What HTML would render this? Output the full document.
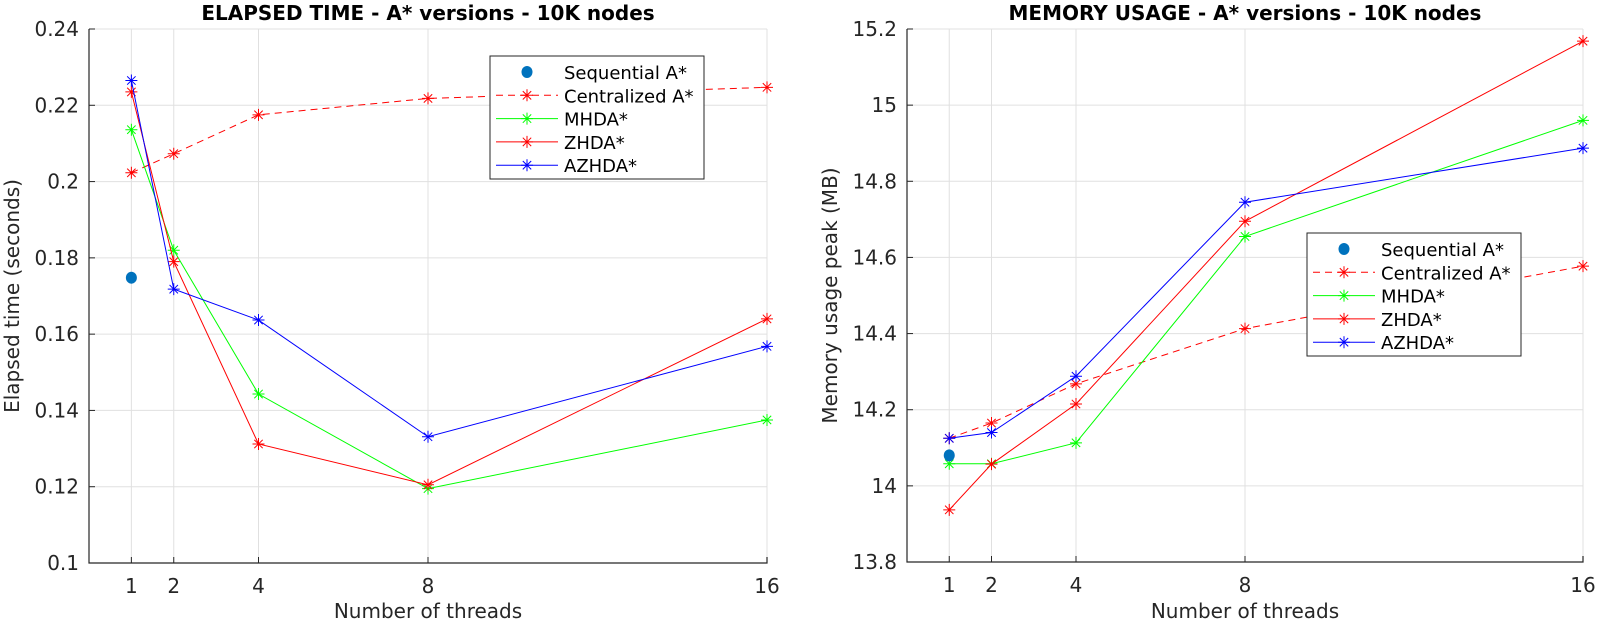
<!DOCTYPE html>
<html><head><meta charset="utf-8"><style>
body{margin:0;background:#fff;}
svg{display:block;font-family:"DejaVu Sans","Liberation Sans",sans-serif;}
</style></head><body>
<svg id="c" width="1600" height="624"></svg>
<script>
const threads=[1,2,4,8,16];
const leftSeq=[0.1748];
const leftCentral=[0.2023,0.2073,0.2175,0.2218,0.2247];
const leftMHDA=[0.2136,0.1820,0.1443,0.1195,0.1375];
const leftZHDA=[0.2235,0.1790,0.1312,0.1205,0.1640];
const leftAZHDA=[0.2265,0.1718,0.1637,0.1331,0.1568];
const leftYTicks=[0.1,0.12,0.14,0.16,0.18,0.2,0.22,0.24];
const leftYLabels=["0.1","0.12","0.14","0.16","0.18","0.2","0.22","0.24"];
const rightSeq=[14.08];
const rightCentral=[14.125,14.165,14.268,14.413,14.577];
const rightMHDA=[14.058,14.058,14.113,14.655,14.96];
const rightZHDA=[13.937,14.057,14.215,14.695,15.168];
const rightAZHDA=[14.125,14.14,14.288,14.745,14.887];
const rightYTicks=[13.8,14,14.2,14.4,14.6,14.8,15,15.2];
const rightYLabels=["13.8","14","14.2","14.4","14.6","14.8","15","15.2"];
const seriesNames=["Sequential A*","Centralized A*","MHDA*","ZHDA*","AZHDA*"];

const NS="http://www.w3.org/2000/svg";
const svg=document.getElementById('c');
function mk(tag,attrs,parent){const e=document.createElementNS(NS,tag);for(const k in attrs)e.setAttribute(k,attrs[k]);(parent||svg).appendChild(e);return e;}
function star(g,x,y,color){
  const r=6;
  mk('path',{d:`M${x-r},${y}H${x+r}M${x},${y-r}V${y+r}M${x-r*0.7},${y-r*0.7}L${x+r*0.7},${y+r*0.7}M${x-r*0.7},${y+r*0.7}L${x+r*0.7},${y-r*0.7}`,stroke:color,'stroke-width':1,fill:'none'},g);
}
function panel(o){
  const g=mk('g',{});
  
  
  const sx=v=>o.x0+(v-o.xmin)/(o.xmax-o.xmin)*(o.x1-o.x0);
  const sy=v=>o.y1-(v-o.ymin)/(o.ymax-o.ymin)*(o.y1-o.y0);
  o.yt.forEach((t,i)=>{
    const y=sy(t);
    mk('line',{x1:o.x0,x2:o.x1,y1:y,y2:y,stroke:'#e0e0e0','stroke-width':1},g);
    const tx=mk('text',{x:o.x0-10,y:y+7,'text-anchor':'end','font-size':20,fill:'#262626'},g);
    tx.textContent=o.yl[i];
    
    
  });
  threads.forEach(t=>{
    const x=sx(t);
    mk('line',{x1:x,x2:x,y1:o.y0,y2:o.y1,stroke:'#e0e0e0','stroke-width':1},g);
    mk('line',{x1:x,x2:x,y1:o.y1,y2:o.y1-6,stroke:'#262626','stroke-width':1},g);
    const tx=mk('text',{x:x,y:o.y1+30,'text-anchor':'middle','font-size':20,fill:'#262626'},g);
    tx.textContent=String(t);
    
    
  });
  o.yt.forEach(t=>{const y=sy(t);mk('line',{x1:o.x0,x2:o.x0+6,y1:y,y2:y,stroke:'#262626'},g);});
  mk('path',{d:`M${o.x0},${o.y0}V${o.y1}H${o.x1}V${o.y1-6}`,stroke:'#262626','stroke-width':1.2,fill:'none'},g);
  const series=[
    {v:o.central,c:'#ff0000',dash:'7,5',n:'series-centralized'},
    {v:o.mhda,c:'#00ff00',dash:null,n:'series-mhda'},
    {v:o.zhda,c:'#ff0000',dash:null,n:'series-zhda'},
    {v:o.azhda,c:'#0000ff',dash:null,n:'series-azhda'}];
  series.forEach(s=>{
    const sg=mk('g',{},g);
    
    
    const d=s.v.map((v,i)=>(i?'L':'M')+sx(threads[i])+','+sy(v)).join('');
    const a={d:d,stroke:s.c,'stroke-width':1,fill:'none'};
    if(s.dash)a['stroke-dasharray']=s.dash;
    mk('path',a,sg);
    s.v.forEach((v,i)=>star(sg,sx(threads[i]),sy(v),s.c));
  });
  o.seq.forEach((v,i)=>{
    const c=mk('ellipse',{cx:sx(threads[i]),cy:sy(v),rx:5.5,ry:6,fill:'#0072bd'},g);
    
    
  });
  const ti=mk('text',{x:(o.x0+o.x1)/2,y:20,'text-anchor':'middle','font-size':20,'font-weight':'bold',fill:'#000'},g);
  ti.textContent=o.title;
  
  
  const xl=mk('text',{x:(o.x0+o.x1)/2,y:618,'text-anchor':'middle','font-size':20,fill:'#262626'},g);
  xl.textContent='Number of threads';
  
  
  const yl=mk('text',{x:0,y:0,'text-anchor':'middle','font-size':20,fill:'#262626',transform:`translate(${o.ylx},${(o.y0+o.y1)/2}) rotate(-90)`},g);
  yl.textContent=o.ytitle;
  
  
  const lg=mk('g',{},g);
  
  
  mk('rect',{x:o.lx,y:o.ly,width:214,height:123,fill:'#fff',stroke:'#262626','stroke-width':1},lg);
  const lc=['#0072bd','#ff0000','#00ff00','#ff0000','#0000ff'];
  seriesNames.forEach((n,i)=>{
    const y=o.ly+16+i*23.3;
    const e=mk('g',{},lg);
    
    
    if(i===0){mk('ellipse',{cx:o.lx+37,cy:y,rx:5.5,ry:6,fill:lc[0]},e);}
    else{
      const a={x1:o.lx+6,x2:o.lx+68,y1:y,y2:y,stroke:lc[i],'stroke-width':1};
      if(i===1)a['stroke-dasharray']='7,5';
      mk('line',a,e);star(e,o.lx+37,y,lc[i]);
    }
    const t=mk('text',{x:o.lx+74,y:y+7,'font-size':18,fill:'#000'},e);
    t.textContent=n;
  });
}
panel({name:'elapsed-time-chart',x0:89,x1:767,y0:29,y1:563,xmin:0,xmax:16,ymin:0.1,ymax:0.24,
  yt:leftYTicks,yl:leftYLabels,seq:leftSeq,central:leftCentral,mhda:leftMHDA,zhda:leftZHDA,azhda:leftAZHDA,
  title:'ELAPSED TIME - A* versions - 10K nodes',ytitle:'Elapsed time (seconds)',ylx:19,lx:490,ly:56});
panel({name:'memory-usage-chart',x0:907,x1:1583,y0:29,y1:562,xmin:0,xmax:16,ymin:13.8,ymax:15.2,
  yt:rightYTicks,yl:rightYLabels,seq:rightSeq,central:rightCentral,mhda:rightMHDA,zhda:rightZHDA,azhda:rightAZHDA,
  title:'MEMORY USAGE - A* versions - 10K nodes',ytitle:'Memory usage peak (MB)',ylx:837,lx:1307,ly:233});
</script>
</body></html>
